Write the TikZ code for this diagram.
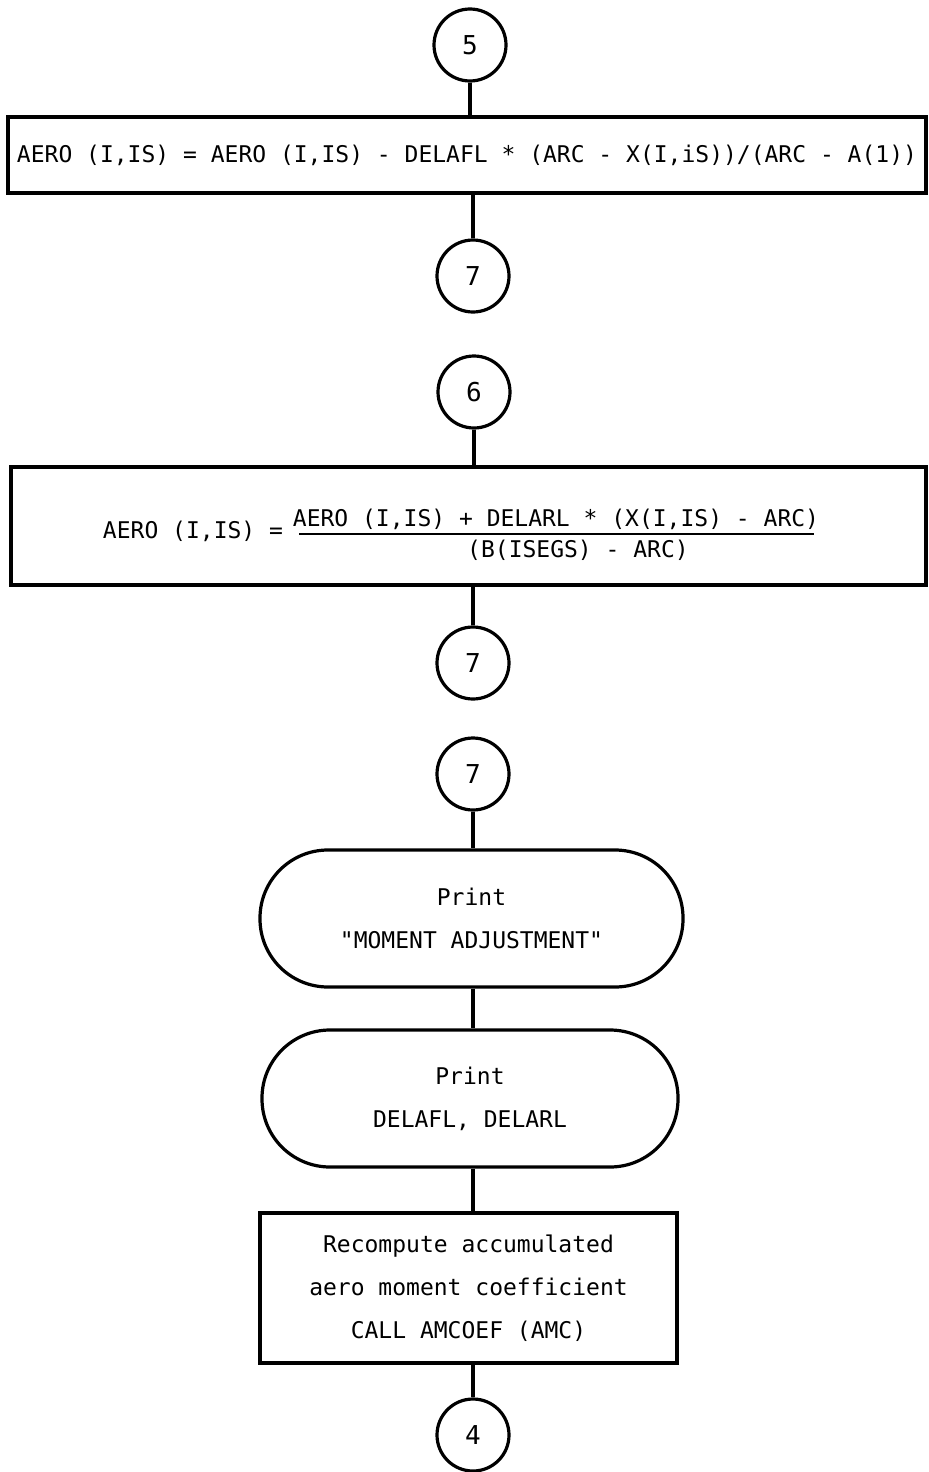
\documentclass[tikz,border=0pt]{standalone}
\usepackage{fontspec}
\setmonofont{DejaVu Sans Mono}
\begin{document}
\begin{tikzpicture}[x=0.5pt,y=-0.5pt,
  conn/.style={circle, draw, line width=1.6pt, minimum size=36pt, inner sep=0pt,
    font=\ttfamily\fontsize{13}{15}\selectfont},
  procbox/.style={draw, line width=1.6pt, rectangle, inner sep=0pt, align=center,
    font=\ttfamily\fontsize{11.5}{21.5}\selectfont},
  term/.style={draw, line width=1.6pt, rectangle, rounded corners=34pt, inner sep=0pt, align=center,
    font=\ttfamily\fontsize{11.5}{21.5}\selectfont},
  txt/.style={inner sep=0pt, anchor=base, font=\ttfamily\fontsize{11.5}{13}\selectfont},
  link/.style={line width=1.6pt}]
\useasboundingbox (0,0) rectangle (928,1472);

% connectors (circles)
\node[conn] (c5)  at (470,45)   {5};
\node[conn] (c7a) at (473,276)  {7};
\node[conn] (c6)  at (474,392)  {6};
\node[conn] (c7b) at (473,663)  {7};
\node[conn] (c7c) at (473,774)  {7};
\node[conn] (c4)  at (473,1435) {4};

% box 1
\node[procbox, minimum width=459pt, minimum height=38pt] (b1) at (467,155)
  {AERO (I,IS) = AERO (I,IS) - DELAFL * (ARC - X(I,iS))/(ARC - A(1))};

% box 2
\node[procbox, minimum width=457.5pt, minimum height=59pt] (b2) at (468.5,526) {};
\node[txt] (lhs) at (193,538) {AERO (I,IS) =};
\node[txt] (num) at (556,526) {AERO (I,IS) + DELARL * (X(I,IS) - ARC)};
\node[txt] (den) at (578,557) {(B(ISEGS) - ARC)};
\draw[line width=1.1pt] (299,534) -- (814,534);

% terminals
\node[term, minimum width=211.5pt, minimum height=68.5pt] (t1) at (471.5,918.5)
  {Print\\"MOMENT ADJUSTMENT"};
\node[term, minimum width=208pt, minimum height=68.5pt] (t2) at (470,1098.5)
  {Print\\DELAFL, DELARL};

% box 3
\node[procbox, minimum width=208.5pt, minimum height=75pt] (b3) at (468.5,1288)
  {Recompute accumulated\\aero moment coefficient\\CALL AMCOEF (AMC)};

% links
\draw[link] (c5.south) -- (c5.south |- b1.north);
\draw[link] (b1.south -| c7a.north) -- (c7a.north);
\draw[link] (c6.south) -- (c6.south |- b2.north);
\draw[link] (b2.south -| c7b.north) -- (c7b.north);
\draw[link] (c7c.south) -- (c7c.south |- t1.north);
\draw[link] (t1.south -| c7c.south) -- (t2.north -| c7c.south);
\draw[link] (t2.south -| c7c.south) -- (b3.north -| c7c.south);
\draw[link] (b3.south -| c4.north) -- (c4.north);
\end{tikzpicture}
\end{document}
